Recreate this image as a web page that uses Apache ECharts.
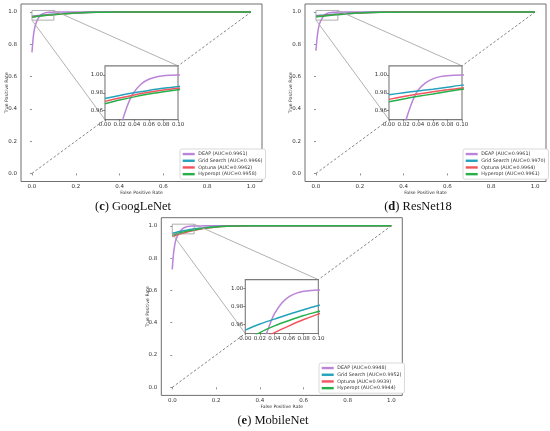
<!DOCTYPE html>
<html><head><meta charset="utf-8">
<script src="https://cdn.jsdelivr.net/npm/echarts@6/dist/echarts.min.js"></script>
<style>html,body{margin:0;padding:0;background:#fff}#chart{width:550px;height:431px}</style>
</head><body><div id="chart"></div>
<script>
// ---------- DATA ----------
const fprDEAP  = [0, 0.003, 0.006, 0.01, 0.015, 0.02, 0.025, 0.03, 0.035, 0.04, 0.05, 0.06, 0.07, 0.08, 0.09, 0.1, 0.15, 0.2, 1.0];
const fprOther = [0, 0.02, 0.04, 0.06, 0.08, 0.1, 0.15, 0.2, 0.25, 0.3, 0.4, 1.0];
const diagonal = [0, 1];

const googDEAP  = [0.75, 0.80, 0.845, 0.885, 0.915, 0.937, 0.952, 0.964, 0.974, 0.981, 0.990, 0.995, 0.9975, 0.999, 0.9995, 0.9998, 1, 1, 1];
const googGrid  = [0.9735, 0.977, 0.980, 0.9826, 0.985, 0.9869, 0.9915, 0.995, 0.9975, 0.999, 1, 1];
const googOpt   = [0.9704, 0.9742, 0.9776, 0.9805, 0.983, 0.985, 0.990, 0.994, 0.997, 0.9988, 1, 1];
const googHyp   = [0.9678, 0.9718, 0.9754, 0.9785, 0.9811, 0.9834, 0.989, 0.9935, 0.9967, 0.9986, 1, 1];

const resDEAP   = [0.76, 0.81, 0.85, 0.89, 0.92, 0.94, 0.954, 0.966, 0.976, 0.983, 0.991, 0.9955, 0.998, 0.999, 0.9995, 0.9998, 1, 1, 1];
const resGrid   = [0.9777, 0.980, 0.982, 0.984, 0.9862, 0.9885, 0.993, 0.996, 0.998, 0.9993, 1, 1];
const resOpt    = [0.9726, 0.9757, 0.9785, 0.981, 0.9833, 0.9853, 0.9905, 0.9945, 0.9972, 0.999, 1, 1];
const resHyp    = [0.9699, 0.9731, 0.976, 0.9787, 0.9815, 0.984, 0.9895, 0.994, 0.997, 0.9988, 1, 1];

const mobDEAP   = [0.73, 0.785, 0.83, 0.87, 0.905, 0.925, 0.94, 0.952, 0.963, 0.972, 0.984, 0.991, 0.995, 0.997, 0.998, 0.9985, 0.9995, 1, 1];
const mobGrid   = [0.9537, 0.9605, 0.966, 0.9715, 0.9765, 0.9812, 0.990, 0.9955, 0.9985, 0.9997, 1, 1];
const mobOpt    = [0.934, 0.9425, 0.951, 0.9585, 0.9655, 0.9716, 0.984, 0.992, 0.997, 0.999, 1, 1];
const mobHyp    = [0.940, 0.951, 0.9585, 0.9645, 0.970, 0.9744, 0.9855, 0.993, 0.9975, 0.9993, 1, 1];

const methodNames  = ['DEAP', 'Grid Search', 'Optuna', 'Hyperopt'];
const aucGoogLeNet = ['0.9961', '0.9966', '0.9962', '0.9958'];
const aucResNet18  = ['0.9961', '0.9970', '0.9964', '0.9961'];
const aucMobileNet = ['0.9948', '0.9952', '0.9939', '0.9944'];
const panelLetters = ['c', 'd', 'e'];
const panelNames   = ['GoogLeNet', 'ResNet18', 'MobileNet'];
const xTitle = 'False Positive Rate';
const yTitle = 'True Positive Rate';

const zoomX = [0, 0.1];
const zoomY = [0.95, 1.01];
const insetSpan = [1/3, 2/3];
const mainTicks   = [0, 0.2, 0.4, 0.6, 0.8, 1.0];
const insetXTicks = [0, 0.02, 0.04, 0.06, 0.08, 0.1];
const insetYTicks = [0.96, 0.98, 1.00];

// ---------- LAYOUT / STYLE ----------
const colors = ['#bb84d8', '#24a2bc', '#f2555f', '#25b04a'];
const panels = [
  {L: 21,    T: 4,     W: 241, H: 177.5, leg: {left: 180, top: 149}, cap: {x: 133, y: 207},
   curves: [[fprDEAP, googDEAP], [fprOther, googGrid], [fprOther, googOpt], [fprOther, googHyp]], auc: aucGoogLeNet},
  {L: 305,   T: 4,     W: 241, H: 177.5, leg: {left: 463, top: 149}, cap: {x: 418, y: 207},
   curves: [[fprDEAP, resDEAP], [fprOther, resGrid], [fprOther, resOpt], [fprOther, resHyp]], auc: aucResNet18},
  {L: 161.3, T: 217.7, W: 241, H: 177.7, leg: {left: 319, top: 363}, cap: {x: 273, y: 421},
   curves: [[fprDEAP, mobDEAP], [fprOther, mobGrid], [fprOther, mobOpt], [fprOther, mobHyp]], auc: aucMobileNet}
];

const FONT = 'DejaVu Sans';
const grid = [], xAxis = [], yAxis = [], series = [], legend = [], graphic = [];
const pairs = (xs, ys) => xs.map((x, i) => [x, ys[i]]);
const hiddenX = gIdx => ({type: 'value', gridIndex: gIdx, min: 0, max: 1, show: false});

panels.forEach((p, i) => {
  const gi = 4 * i, ii = 4 * i + 1, li = 4 * i + 2, ti = 4 * i + 3;
  // main plot
  grid.push({left: p.L, top: p.T, width: p.W, height: p.H, show: true,
    borderColor: '#6f6f6f', borderWidth: 1, backgroundColor: '#fff', z: 0});
  // inset
  const iL = p.L + p.W * (insetSpan[0] + 0.05) / 1.1;
  const iT = p.T + p.H * (1.05 - insetSpan[1]) / 1.1;
  const iW = p.W * (insetSpan[1] - insetSpan[0]) / 1.1;
  const iH = p.H * (insetSpan[1] - insetSpan[0]) / 1.1;
  grid.push({left: iL, top: iT, width: iW, height: iH, show: true,
    borderColor: '#7a7a7a', borderWidth: 1.1, backgroundColor: '#fff', z: 10});
  // thin grid carrying the main y tick labels
  grid.push({left: p.L, top: p.T, width: 1, height: p.H, show: false});
  // thin grid carrying the y-axis title
  grid.push({left: p.L - 10, top: p.T, width: 1, height: p.H, show: false});

  const tick = {show: true, inside: false, length: 2, lineStyle: {color: '#444', width: 0.6}};
  const lab = {fontSize: 5.5, color: '#333', fontFamily: FONT, margin: 2, hideOverlap: false};

  // x axes (same order as grids)
  xAxis.push({type: 'value', gridIndex: gi, min: -0.05, max: 1.05,
    axisLine: {show: false}, splitLine: {show: false},
    axisTick: Object.assign({customValues: mainTicks}, tick),
    axisLabel: Object.assign({customValues: mainTicks, formatter: v => v.toFixed(1)}, lab),
    name: xTitle, nameLocation: 'middle', nameGap: 8,
    nameTextStyle: {fontSize: 4.6, color: '#333', fontFamily: FONT}});
  xAxis.push({type: 'value', gridIndex: ii, min: zoomX[0], max: zoomX[1], z: 11,
    axisLine: {show: false}, splitLine: {show: false},
    axisTick: Object.assign({customValues: insetXTicks}, tick),
    axisLabel: Object.assign({customValues: insetXTicks, formatter: v => v.toFixed(2)}, lab)});
  xAxis.push(hiddenX(li));
  xAxis.push(hiddenX(ti));

  // y axes
  yAxis.push({type: 'value', gridIndex: gi, min: -0.05, max: 1.05,
    axisLine: {show: false}, splitLine: {show: false},
    axisTick: Object.assign({customValues: mainTicks}, tick),
    axisLabel: {show: false}});
  yAxis.push({type: 'value', gridIndex: ii, min: zoomY[0], max: zoomY[1], z: 11,
    axisLine: {show: false}, splitLine: {show: false},
    axisTick: Object.assign({customValues: insetYTicks}, tick),
    axisLabel: Object.assign({customValues: insetYTicks, formatter: v => v.toFixed(2)}, lab)});
  yAxis.push({type: 'value', gridIndex: li, min: -0.05, max: 1.05, position: 'left',
    axisLine: {show: false}, splitLine: {show: false}, axisTick: {show: false},
    axisLabel: Object.assign({customValues: mainTicks, formatter: v => v.toFixed(1)}, lab,
      {margin: 4})});
  yAxis.push({type: 'value', gridIndex: ti, min: 0, max: 1, position: 'left',
    axisLine: {show: false}, splitLine: {show: false}, axisTick: {show: false}, axisLabel: {show: false},
    name: yTitle, nameLocation: 'middle', nameGap: 1.5,
    nameTextStyle: {fontSize: 4.6, color: '#333', fontFamily: FONT}});

  series.push({type: 'line', xAxisIndex: gi, yAxisIndex: gi, name: 'chance' + i,
    data: diagonal.map(v => [v, v]), showSymbol: false, silent: true, z: 2,
    lineStyle: {color: '#666', width: 0.8, type: [2.5, 2]}});

  const names = methodNames.map((m, k) => m + ' (AUC=' + p.auc[k] + ')');
  p.curves.forEach((c, k) => {
    series.push({type: 'line', xAxisIndex: gi, yAxisIndex: gi, name: names[k],
      data: pairs(c[0], c[1]), showSymbol: false, smooth: 0.3, z: 3,
      lineStyle: {color: colors[k], width: 1.5}, itemStyle: {color: colors[k]}});
  });
  series.push({type: 'line', xAxisIndex: gi, yAxisIndex: gi, name: 'box' + i, silent: true, z: 4,
    data: [[zoomX[0], zoomY[0]], [zoomX[1], zoomY[0]], [zoomX[1], zoomY[1]], [zoomX[0], zoomY[1]], [zoomX[0], zoomY[0]]],
    showSymbol: false, lineStyle: {color: '#9a9a9a', width: 0.8}});
  series.push({type: 'line', xAxisIndex: gi, yAxisIndex: gi, name: 'conn1_' + i, silent: true, z: 4,
    data: [[zoomX[0], zoomY[0]], [insetSpan[0], insetSpan[0]]],
    showSymbol: false, lineStyle: {color: '#a8a8a8', width: 0.9}});
  series.push({type: 'line', xAxisIndex: gi, yAxisIndex: gi, name: 'conn2_' + i, silent: true, z: 4,
    data: [[zoomX[1], zoomY[1]], [insetSpan[1], insetSpan[1]]],
    showSymbol: false, lineStyle: {color: '#a8a8a8', width: 0.9}});
  p.curves.forEach((c, k) => {
    series.push({type: 'line', xAxisIndex: ii, yAxisIndex: ii, name: names[k],
      data: pairs(c[0], c[1]), showSymbol: false, smooth: 0.3, z: 12, clip: true,
      lineStyle: {color: colors[k], width: 1.5}, itemStyle: {color: colors[k]}});
  });

  legend.push({data: names, orient: 'vertical', left: p.leg.left, top: p.leg.top,
    icon: 'rect', itemWidth: 12, itemHeight: 2.4, itemGap: 1.2, selectedMode: false,
    padding: [2.3, 3, 2.3, 2.7], borderColor: '#cfcfcf', borderWidth: 0.8, borderRadius: 2,
    backgroundColor: '#fff', z: 20,
    textStyle: {fontSize: 4.8, lineHeight: 5.5, color: '#333', fontFamily: FONT, padding: [0, 0, 0, -1.5]}});

  graphic.push({type: 'text', x: p.cap.x, y: p.cap.y, z: 30,
    style: {text: '({b|' + panelLetters[i] + '}) ' + panelNames[i],
      fontSize: 12.5, fontFamily: 'Liberation Serif', fill: '#111',
      textAlign: 'center', textVerticalAlign: 'middle', align: 'center', verticalAlign: 'middle',
      rich: {b: {fontWeight: 'bold', fontSize: 12.5, fontFamily: 'Liberation Serif', fill: '#111'}}}});
});

const chart = echarts.init(document.getElementById('chart'), null, {renderer: 'canvas'});
chart.setOption({animation: false, backgroundColor: '#fff', grid, xAxis, yAxis, series, legend, graphic});
</script>
</body></html>
